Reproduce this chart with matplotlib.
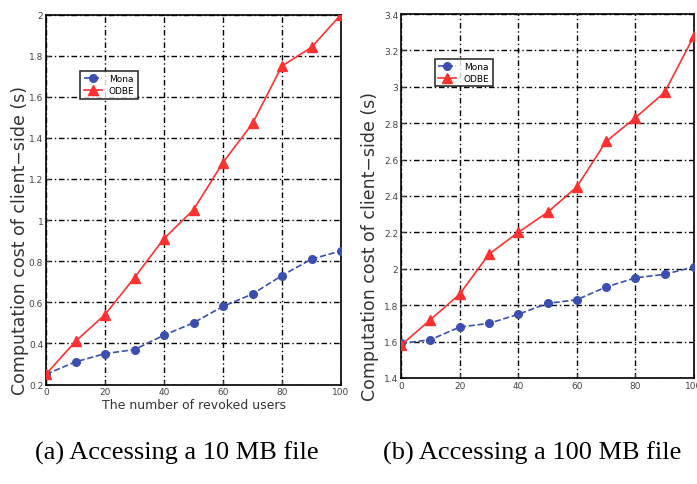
import numpy as np
import matplotlib.pyplot as plt

# revoked users
users = [0, 10, 20, 30, 40, 50, 60, 70, 80, 90, 100]

# (a) 10 MB file
mona_10 = [0.25, 0.31, 0.35, 0.37, 0.44, 0.50, 0.58, 0.64, 0.73, 0.81, 0.85]
odbe_10 = [0.25, 0.41, 0.54, 0.72, 0.91, 1.05, 1.28, 1.47, 1.75, 1.84, 2.00]

# (b) 100 MB file
mona_100 = [1.59, 1.61, 1.68, 1.70, 1.75, 1.81, 1.83, 1.90, 1.95, 1.97, 2.01]
odbe_100 = [1.58, 1.72, 1.86, 2.08, 2.20, 2.31, 2.45, 2.70, 2.83, 2.97, 3.28]

ylabel = 'Computation cost of client\u2212side (s)'
blue = '#3a4fb0'
red = '#ff3030'
grid_style = (0, (4, 2, 1, 2))

fig = plt.figure(figsize=(6.97, 4.85), dpi=100)
W, H = 697.0, 485.0
ax1 = fig.add_axes([46 / W, 1 - 385.5 / H, 295 / W, 370 / H])
ax2 = fig.add_axes([401 / W, 1 - 379 / H, 293 / W, 364 / H])


def draw(ax, mona, odbe, ylim, yticks, legend_pos, label_xy):
    ax.plot(users, mona, color=blue, linestyle='--', marker='o', markersize=5.5,
            linewidth=1.2, label='Mona', zorder=3)
    ax.plot(users, odbe, color=red, linestyle='-', marker='^', markersize=6.5,
            linewidth=1.2, label='ODBE', zorder=3)
    ax.set_xlim(0, 100)
    ax.set_ylim(*ylim)
    ax.set_xticks([0, 20, 40, 60, 80, 100])
    ax.set_yticks(yticks)
    ax.set_yticklabels(['%g' % t for t in yticks])
    ax.tick_params(direction='in', labelsize=6.5, colors='#444444', length=3, pad=2)
    ax.grid(True, color='black', linestyle=grid_style, linewidth=1.0)
    for s in ax.spines.values():
        s.set_linewidth(1.2)
    ax.set_ylabel(ylabel, fontsize=12.5, color='#333333')
    ax.yaxis.set_label_coords(*label_xy)
    leg = ax.legend(loc='upper left', bbox_to_anchor=legend_pos, fontsize=6.5,
                    frameon=True, fancybox=False, edgecolor='black',
                    handlelength=2.0, borderpad=0.4, labelspacing=0.3)
    leg.get_frame().set_linewidth(1.2)


draw(ax1, mona_10, odbe_10, (0.2, 2.0), np.round(np.arange(0.2, 2.01, 0.2), 1),
     (0.10, 0.86), (-0.058, 0.393))
draw(ax2, mona_100, odbe_100, (1.4, 3.4), np.round(np.arange(1.4, 3.41, 0.2), 1),
     (0.10, 0.89), (-0.075, 0.363))

ax1.set_xlabel('The number of revoked users', fontsize=9, color='#333333', labelpad=1)

fig.text(177 / W, 1 - 453 / H, '(a) Accessing a 10 MB file', ha='center', va='center',
         fontsize=19, family='Liberation Serif')
fig.text(532 / W, 1 - 453 / H, '(b) Accessing a 100 MB file', ha='center', va='center',
         fontsize=19, family='Liberation Serif')

fig.savefig('out.png', dpi=100)
